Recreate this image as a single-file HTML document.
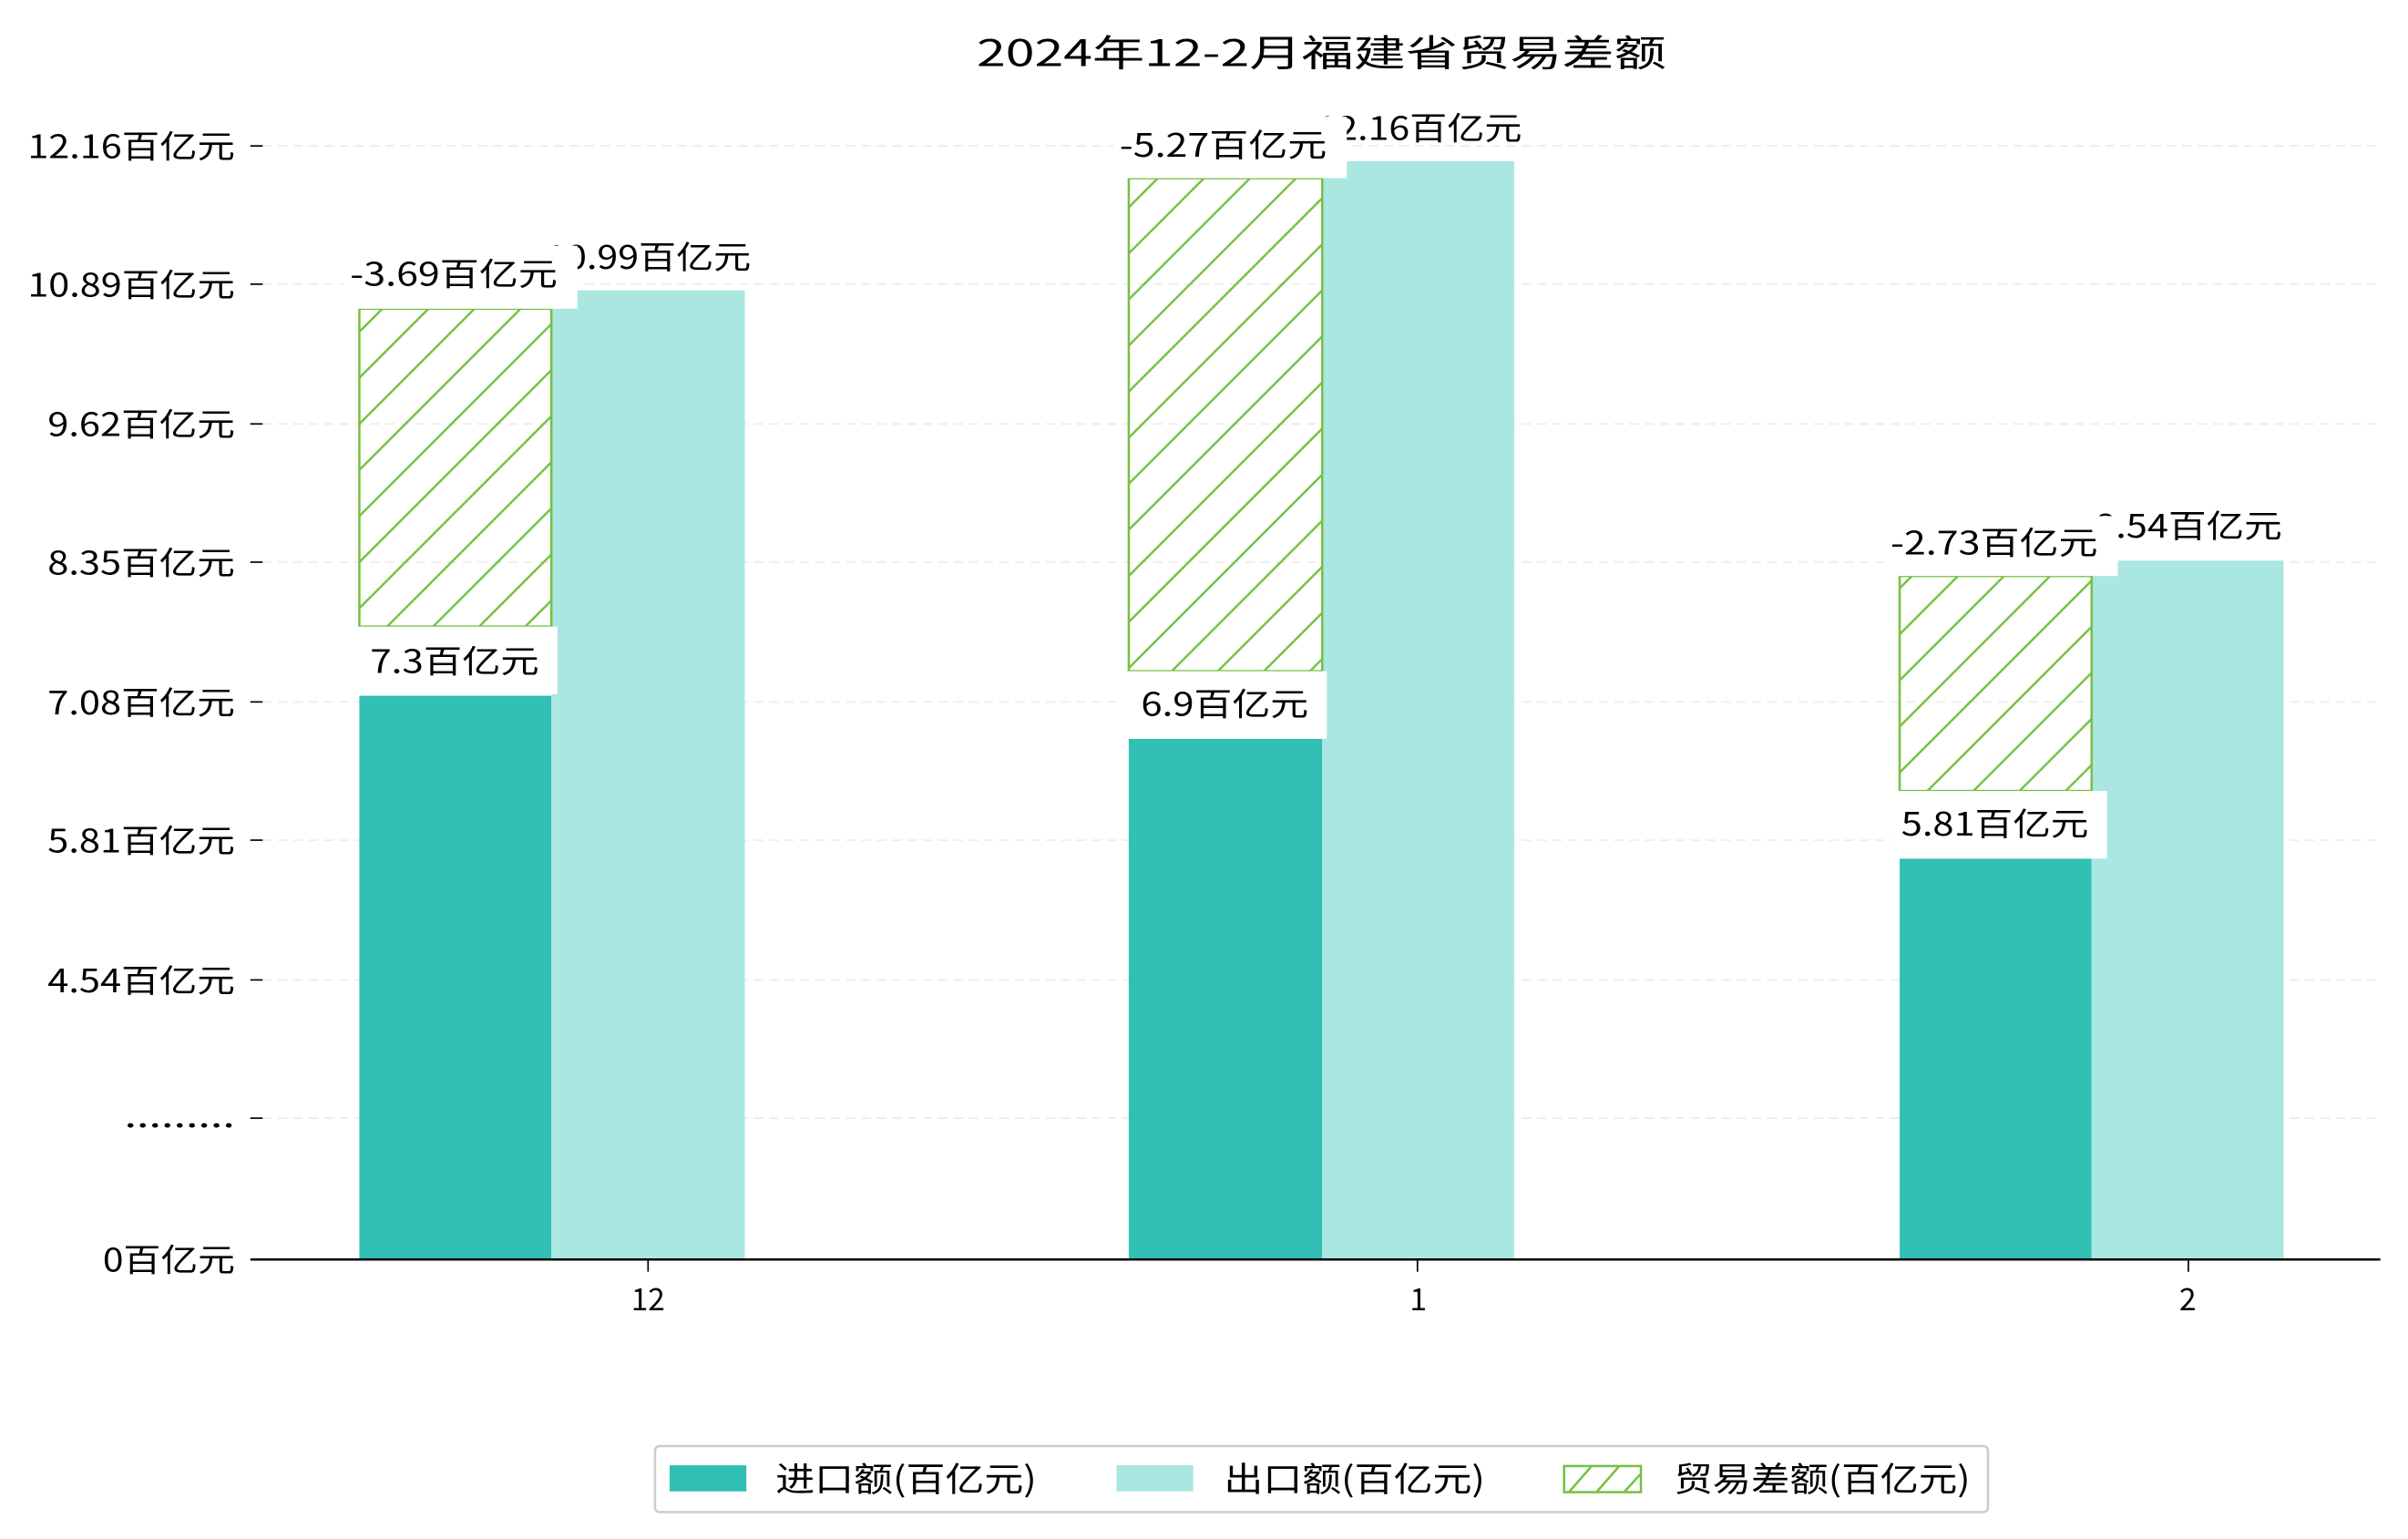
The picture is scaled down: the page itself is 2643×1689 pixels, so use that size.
<!DOCTYPE html>
<html><head><meta charset="utf-8"><style>
html,body{margin:0;padding:0;background:#fff;}
svg{display:block;}
text{font-family:"WenQuanYi Zen Hei","Noto Sans CJK SC",sans-serif;fill:#000;}
</style></head><body>
<svg width="2643" height="1689" viewBox="0 0 1568 1002" preserveAspectRatio="none" xmlns="http://www.w3.org/2000/svg">
<defs>
<pattern id="h" patternUnits="userSpaceOnUse" width="30" height="30">
<path d="M-5,35 L35,-5 M-35,35 L35,-35 M-5,65 L65,-5" stroke="#76c043" stroke-width="1.5"/>
</pattern>
</defs>
<rect width="1568" height="1002" fill="#fff"/>
<text x="636" y="43" font-size="24" textLength="449" lengthAdjust="spacingAndGlyphs">2024年12-2月福建省贸易差额</text>
<g stroke="#ececec" stroke-width="1" stroke-dasharray="6,4">
<line x1="171" y1="95" x2="1550" y2="95"/><line x1="171" y1="185" x2="1550" y2="185"/>
<line x1="171" y1="276" x2="1550" y2="276"/><line x1="171" y1="366" x2="1550" y2="366"/>
<line x1="171" y1="457" x2="1550" y2="457"/><line x1="171" y1="547" x2="1550" y2="547"/>
<line x1="171" y1="638" x2="1550" y2="638"/><line x1="171" y1="728" x2="1550" y2="728"/>
</g>
<g stroke="#000" stroke-width="1">
<line x1="163" y1="95" x2="171" y2="95"/><line x1="163" y1="185" x2="171" y2="185"/>
<line x1="163" y1="276" x2="171" y2="276"/><line x1="163" y1="366" x2="171" y2="366"/>
<line x1="163" y1="457" x2="171" y2="457"/><line x1="163" y1="547" x2="171" y2="547"/>
<line x1="163" y1="638" x2="171" y2="638"/><line x1="163" y1="728" x2="171" y2="728"/>
<line x1="422" y1="820" x2="422" y2="828"/><line x1="923" y1="820" x2="923" y2="828"/><line x1="1425" y1="820" x2="1425" y2="828"/>
</g>
<g font-size="21" lengthAdjust="spacingAndGlyphs">
<text x="18" y="103" textLength="135" lengthAdjust="spacingAndGlyphs">12.16百亿元</text>
<text x="18" y="193" textLength="135" lengthAdjust="spacingAndGlyphs">10.89百亿元</text>
<text x="31" y="284" textLength="122" lengthAdjust="spacingAndGlyphs">9.62百亿元</text>
<text x="31" y="374" textLength="122" lengthAdjust="spacingAndGlyphs">8.35百亿元</text>
<text x="31" y="465" textLength="122" lengthAdjust="spacingAndGlyphs">7.08百亿元</text>
<text x="31" y="555" textLength="122" lengthAdjust="spacingAndGlyphs">5.81百亿元</text>
<text x="31" y="646" textLength="122" lengthAdjust="spacingAndGlyphs">4.54百亿元</text>
<text x="81" y="734" textLength="72" lengthAdjust="spacingAndGlyphs">.........</text>
<text x="67" y="828" textLength="86" lengthAdjust="spacingAndGlyphs">0百亿元</text>
</g>
<g font-size="20">
<text x="411" y="853" textLength="22" lengthAdjust="spacingAndGlyphs">12</text>
<text x="918" y="853">1</text>
<text x="1419" y="853">2</text>
</g>
<!-- bars -->
<rect x="234" y="453" width="125" height="367" fill="#31c0b3"/>
<rect x="359" y="189" width="126" height="631" fill="#abe7e1"/>
<rect x="234" y="201" width="125" height="207" fill="url(#h)" stroke="#76c043" stroke-width="1.5"/>
<rect x="735" y="481" width="126" height="339" fill="#31c0b3"/>
<rect x="861" y="105" width="125" height="715" fill="#abe7e1"/>
<rect x="735" y="116" width="126" height="321" fill="url(#h)" stroke="#76c043" stroke-width="1.5"/>
<rect x="1237" y="559" width="125" height="261" fill="#31c0b3"/>
<rect x="1362" y="365" width="125" height="455" fill="#abe7e1"/>
<rect x="1237" y="375" width="125" height="140" fill="url(#h)" stroke="#76c043" stroke-width="1.5"/>
<line x1="163" y1="820" x2="1550" y2="820" stroke="#000" stroke-width="1.5"/>
<!-- labels -->
<g font-size="21">
<text x="355" y="175" textLength="134" lengthAdjust="spacingAndGlyphs">10.99百亿元</text>
<rect x="224" y="160" width="152" height="41" fill="#fff"/>
<text x="228" y="186" textLength="135" lengthAdjust="spacingAndGlyphs">-3.69百亿元</text>
<rect x="229" y="408" width="134" height="44" fill="#fff"/>
<text x="241" y="438" textLength="110" lengthAdjust="spacingAndGlyphs">7.3百亿元</text>
<text x="857" y="91" textLength="134" lengthAdjust="spacingAndGlyphs">12.16百亿元</text>
<rect x="725" y="76" width="152" height="40" fill="#fff"/>
<text x="729" y="102" textLength="135" lengthAdjust="spacingAndGlyphs">-5.27百亿元</text>
<rect x="730" y="437" width="134" height="44" fill="#fff"/>
<text x="743" y="466" textLength="109" lengthAdjust="spacingAndGlyphs">6.9百亿元</text>
<text x="1364" y="350" textLength="122" lengthAdjust="spacingAndGlyphs">8.54百亿元</text>
<rect x="1227" y="336" width="152" height="39" fill="#fff"/>
<text x="1231" y="361" textLength="135" lengthAdjust="spacingAndGlyphs">-2.73百亿元</text>
<rect x="1232" y="515" width="140" height="44" fill="#fff"/>
<text x="1238" y="544" textLength="122" lengthAdjust="spacingAndGlyphs">5.81百亿元</text>
</g>
<!-- legend -->
<rect x="426.5" y="941.5" width="868" height="43" rx="3" fill="#fff" stroke="#cccccc" stroke-width="1.5"/>
<rect x="436" y="954" width="50" height="17" fill="#31c0b3"/>
<rect x="727" y="954" width="50" height="17" fill="#abe7e1"/>
<rect x="1018.5" y="954.5" width="50" height="17" fill="#fff" stroke="#76c043" stroke-width="1.5"/>
<path d="M1022,971 L1036,955 M1040,971 L1054,955 M1058,971 L1068,960" stroke="#76c043" stroke-width="1.5"/>
<g font-size="22">
<text x="505" y="971" textLength="170" lengthAdjust="spacingAndGlyphs">进口额(百亿元)</text>
<text x="797" y="971" textLength="170" lengthAdjust="spacingAndGlyphs">出口额(百亿元)</text>
<text x="1090" y="971" textLength="193" lengthAdjust="spacingAndGlyphs">贸易差额(百亿元)</text>
</g>
</svg>
</body></html>
